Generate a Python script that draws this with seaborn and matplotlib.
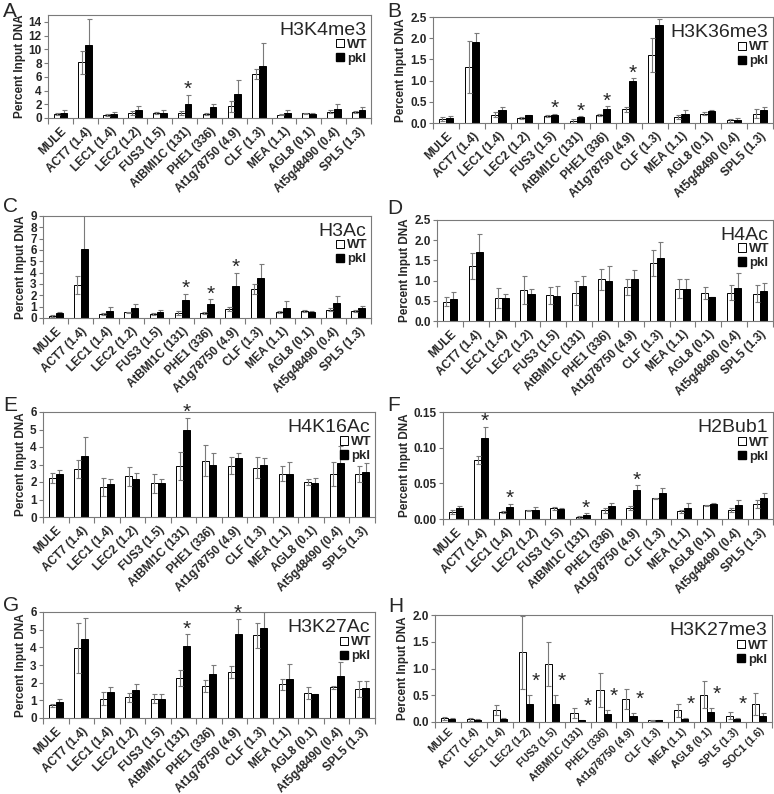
import numpy as np
import pandas as pd
import matplotlib
matplotlib.use('Agg')
import matplotlib.pyplot as plt
from matplotlib.patches import Patch
from matplotlib.ticker import FormatStrFormatter
import seaborn as sns

GENES = ['MULE', 'ACT7 (1.4)', 'LEC1 (1.4)', 'LEC2 (1.2)', 'FUS3 (1.5)',
         'AtBMI1C (131)', 'PHE1 (336)', 'At1g78750 (4.9)', 'CLF (1.3)',
         'MEA (1.1)', 'AGL8 (0.1)', 'At5g48490 (0.4)', 'SPL5 (1.3)']
GENES_H = ['MULE', 'ACT7 (1.4)', 'LEC1 (1.4)', 'LEC2 (1.2)', 'FUS3 (1.5)',
           'AtBMI1C (131)', 'PHE1 (336)', 'At1g78750 (4.9)', 'CLF (1.3)',
           'MEA (1.1)', 'AGL8 (0.1)', 'SPL5 (1.3)', 'SOC1 (1.6)']

# A - H3K4me3
A_WT = [0.6, 8.1, 0.5, 0.7, 0.7, 0.7, 0.6, 1.7, 6.4, 0.5, 0.7, 0.9, 0.9]
A_WT_ERR = [0.1, 1.7, 0.15, 0.3, 0.15, 0.25, 0.1, 0.8, 0.7, 0.1, 0.05,
            0.2, 0.1]
A_PKL = [0.8, 10.6, 0.6, 1.2, 0.8, 2.1, 1.6, 3.5, 7.6, 0.7, 0.6, 1.3, 1.2]
A_PKL_ERR = [0.3, 3.8, 0.3, 0.5, 0.35, 1.2, 0.5, 2.1, 3.3, 0.5, 0.1,
             0.7, 0.4]
A_STARS = ['AtBMI1C (131)']

# B - H3K36me3
B_WT = [0.09, 1.32, 0.2, 0.12, 0.16, 0.05, 0.19, 0.32, 1.6, 0.15, 0.22,
        0.06, 0.22]
B_WT_ERR = [0.04, 0.62, 0.06, 0.03, 0.03, 0.04, 0.02, 0.05, 0.4, 0.05,
            0.03, 0.04, 0.11]
B_PKL = [0.11, 1.9, 0.3, 0.18, 0.2, 0.14, 0.33, 1.0, 2.32, 0.21, 0.28,
         0.08, 0.3]
B_PKL_ERR = [0.05, 0.22, 0.07, 0.02, 0.02, 0.02, 0.06, 0.05, 0.13, 0.1,
             0.03, 0.04, 0.07]
B_STARS = ['FUS3 (1.5)', 'AtBMI1C (131)', 'PHE1 (336)', 'At1g78750 (4.9)']

# C - H3Ac
C_WT = [0.2, 2.95, 0.35, 0.5, 0.38, 0.45, 0.43, 0.8, 2.55, 0.5, 0.6,
        0.75, 0.62]
C_WT_ERR = [0.1, 0.8, 0.05, 0.05, 0.1, 0.2, 0.1, 0.2, 0.45, 0.1, 0.1,
            0.15, 0.12]
C_PKL = [0.4, 6.05, 0.65, 0.85, 0.5, 1.6, 1.2, 2.85, 3.5, 0.92, 0.52,
         1.3, 0.92]
C_PKL_ERR = [0.1, 3.0, 0.35, 0.35, 0.25, 0.5, 0.45, 1.1, 1.25, 0.55,
             0.08, 0.6, 0.12]
C_STARS = ['AtBMI1C (131)', 'PHE1 (336)', 'At1g78750 (4.9)']

# D - H4Ac
D_WT = [0.48, 1.37, 0.57, 0.77, 0.64, 0.69, 1.03, 0.85, 1.43, 0.8, 0.69,
        0.7, 0.68]
D_WT_ERR = [0.11, 0.32, 0.24, 0.34, 0.21, 0.29, 0.26, 0.2, 0.32, 0.23,
            0.14, 0.19, 0.21]
D_PKL = [0.54, 1.72, 0.58, 0.68, 0.62, 0.87, 0.98, 1.04, 1.57, 0.78, 0.6,
         0.81, 0.75]
D_PKL_ERR = [0.19, 0.43, 0.09, 0.12, 0.25, 0.25, 0.39, 0.23, 0.39, 0.27,
             0.0, 0.39, 0.19]
D_STARS = []

# E - H4K16Ac
E_WT = [2.22, 2.75, 1.72, 2.32, 1.92, 2.92, 3.22, 2.93, 2.82, 2.48, 2.0,
        2.45, 2.47]
E_WT_ERR = [0.28, 0.5, 0.52, 0.53, 0.52, 0.82, 0.9, 0.5, 0.6, 0.43, 0.15,
            0.67, 0.45]
E_PKL = [2.45, 3.5, 1.88, 2.15, 1.93, 5.0, 3.0, 3.37, 2.95, 2.43, 1.97,
         3.08, 2.6]
E_PKL_ERR = [0.22, 1.05, 0.27, 0.37, 0.27, 0.65, 0.65, 0.3, 0.4, 0.73,
             0.25, 0.97, 0.5]
E_STARS = ['AtBMI1C (131)']

# F - H2Bub1
F_WT = [0.010, 0.083, 0.010, 0.012, 0.015, 0.003, 0.012, 0.015, 0.029,
        0.011, 0.019, 0.013, 0.021]
F_WT_ERR = [0.003, 0.006, 0.001, 0.001, 0.002, 0.001, 0.003, 0.003,
            0.001, 0.002, 0.001, 0.003, 0.005]
F_PKL = [0.015, 0.113, 0.017, 0.012, 0.014, 0.006, 0.018, 0.041, 0.037,
         0.016, 0.021, 0.020, 0.030]
F_PKL_ERR = [0.003, 0.016, 0.004, 0.005, 0.002, 0.002, 0.005, 0.006,
             0.006, 0.006, 0.002, 0.007, 0.006]
F_STARS = ['ACT7 (1.4)', 'LEC1 (1.4)', 'AtBMI1C (131)', 'At1g78750 (4.9)']

# G - H3K27Ac
G_WT = [0.72, 3.97, 1.1, 1.17, 1.1, 2.25, 1.8, 2.62, 4.68, 1.9, 1.4,
        1.73, 1.65]
G_WT_ERR = [0.1, 1.4, 0.37, 0.27, 0.27, 0.45, 0.35, 0.35, 0.72, 0.33,
            0.35, 0.08, 0.45]
G_PKL = [0.9, 4.48, 1.5, 1.6, 1.1, 4.08, 2.5, 4.73, 5.1, 2.18, 1.35,
         2.38, 1.7]
G_PKL_ERR = [0.2, 1.18, 0.27, 0.32, 0.27, 0.65, 0.5, 0.9, 0.9, 0.87,
             0.02, 0.8, 0.38]
G_STARS = ['AtBMI1C (131)', 'At1g78750 (4.9)']

# H - H3K27me3
H_WT = [0.07, 0.05, 0.22, 1.3, 1.08, 0.17, 0.6, 0.43, 0.03, 0.22, 0.51,
        0.12, 0.34]
H_WT_ERR = [0.03, 0.03, 0.09, 0.68, 0.41, 0.09, 0.32, 0.18, 0.01, 0.12,
            0.25, 0.06, 0.2]
H_PKL = [0.05, 0.04, 0.06, 0.34, 0.34, 0.03, 0.15, 0.11, 0.03, 0.06,
         0.18, 0.05, 0.12]
H_PKL_ERR = [0.02, 0.01, 0.02, 0.17, 0.17, 0.01, 0.07, 0.05, 0.01, 0.02,
             0.08, 0.02, 0.04]
H_STARS = ['LEC2 (1.2)', 'FUS3 (1.5)', 'AtBMI1C (131)', 'PHE1 (336)',
           'At1g78750 (4.9)', 'MEA (1.1)', 'AGL8 (0.1)', 'SPL5 (1.3)']

GRAY = '#7a7a7a'


def draw_panel(ax, genes, wt, wt_err, pkl, pkl_err, stars, title, yticks,
               fmt, star_side=False, xfont=8.5, xpad=5):
    '''
    Draws one grouped bar panel (WT vs pkl) with error bars and stars.
    '''
    n = len(genes)
    df = pd.DataFrame({'gene': genes * 2,
                       'geno': ['WT'] * n + ['pkl'] * n,
                       'value': wt + pkl})
    sns.barplot(data=df, x='gene', y='value', hue='geno', order=genes,
                hue_order=['WT', 'pkl'],
                palette={'WT': 'white', 'pkl': 'black'},
                edgecolor='black', linewidth=0.7, width=0.55,
                errorbar=None, legend=False, ax=ax, zorder=2)

    # error bars: on top of white bars, behind black ones
    z_order = [3, 1]
    for cont, err, z in zip(ax.containers, [wt_err, pkl_err], z_order):
        xs = [p.get_x() + p.get_width() / 2 for p in cont]
        hs = [p.get_height() for p in cont]
        ax.errorbar(xs, hs, yerr=err, fmt='none', ecolor=GRAY,
                    elinewidth=0.8, capsize=1.8, capthick=0.8, zorder=z)

    ymax = yticks[-1]
    ax.set_ylim(0, ymax)
    ax.set_xlim(-0.5, n - 0.5)

    # significance stars
    pkl_bars = list(ax.containers[1])
    for g in stars:
        i = genes.index(g)
        p = pkl_bars[i]
        x = p.get_x() + p.get_width() / 2
        top = pkl[i] + pkl_err[i]
        if star_side:
            ax.text(x + 0.24, top + 0.04 * ymax, '*', ha='center',
                    va='bottom', fontsize=15, clip_on=False)
        else:
            ax.text(x, top - 0.04 * ymax, '*', ha='center', va='bottom',
                    fontsize=15, clip_on=False)

    # axis styling
    ax.set_yticks(yticks)
    ax.yaxis.set_major_formatter(FormatStrFormatter(fmt))
    ax.set_xticks(np.arange(n))
    ax.set_xticklabels(genes, rotation=45, ha='right',
                       rotation_mode='anchor', fontsize=xfont,
                       fontweight='bold')
    ax.set_xticks(np.arange(n + 1) - 0.5, minor=True)
    ax.tick_params(axis='x', which='major', length=0, pad=xpad)
    ax.tick_params(axis='x', which='minor', length=4, direction='out',
                   color=GRAY, width=0.8)
    ax.tick_params(axis='y', length=3, direction='out', color=GRAY,
                   width=0.8, labelsize=8.5, pad=1.5)
    for lab in ax.get_yticklabels():
        lab.set_fontweight('bold')
    for s in ax.spines.values():
        s.set_visible(True)
        s.set_color(GRAY)
        s.set_linewidth(0.8)
    ax.set_xlabel('')
    ax.set_ylabel('Percent Input DNA', fontsize=8.5, fontweight='bold',
                  labelpad=2)

    # title and legend in the corner
    ax.text(0.985, 0.93, title, transform=ax.transAxes, ha='right',
            va='top', fontsize=14)
    handles = [Patch(facecolor='white', edgecolor='black', linewidth=0.7),
               Patch(facecolor='black', edgecolor='black')]
    ax.legend(handles, ['WT', 'pkl'], loc='upper right',
              bbox_to_anchor=(0.99, 0.77), frameon=False,
              prop={'weight': 'bold', 'size': 9.5}, handlelength=0.6,
              handleheight=0.6, handletextpad=0.25, labelspacing=0.15,
              borderaxespad=0, borderpad=0)


def main():
    '''
    Builds the 8 ChIP panels and saves the figure as out.png
    '''
    sns.set_style('ticks')
    plt.rcParams['font.family'] = ['Liberation Sans', 'DejaVu Sans']

    fig = plt.figure(figsize=(7.74, 7.94), dpi=100)
    W, H = 774, 794

    def add_ax(x0, y0, x1, y1):
        return fig.add_axes([x0 / W, 1 - y1 / H, (x1 - x0) / W,
                             (y1 - y0) / H])

    ax_a = add_ax(48, 15, 371, 118)
    ax_b = add_ax(433, 17, 773, 123)
    ax_c = add_ax(43, 216, 371, 318)
    ax_d = add_ax(437, 220, 773, 321)
    ax_e = add_ax(43, 412, 375, 517)
    ax_f = add_ax(443, 412, 773, 519)
    ax_g = add_ax(43, 612, 375, 718)
    ax_h = add_ax(435, 615, 772, 722)

    draw_panel(ax_a, GENES, A_WT, A_WT_ERR, A_PKL, A_PKL_ERR, A_STARS,
               'H3K4me3', [0, 2, 4, 6, 8, 10, 12, 14], '%d')
    ax_a.set_ylim(0, 15)
    draw_panel(ax_b, GENES, B_WT, B_WT_ERR, B_PKL, B_PKL_ERR, B_STARS,
               'H3K36me3', [0, 0.5, 1.0, 1.5, 2.0, 2.5], '%.1f')
    draw_panel(ax_c, GENES, C_WT, C_WT_ERR, C_PKL, C_PKL_ERR, C_STARS,
               'H3Ac', list(range(10)), '%d')
    draw_panel(ax_d, GENES, D_WT, D_WT_ERR, D_PKL, D_PKL_ERR, D_STARS,
               'H4Ac', [0, 0.5, 1.0, 1.5, 2.0, 2.5], '%.1f')
    draw_panel(ax_e, GENES, E_WT, E_WT_ERR, E_PKL, E_PKL_ERR, E_STARS,
               'H4K16Ac', list(range(7)), '%d')
    draw_panel(ax_f, GENES, F_WT, F_WT_ERR, F_PKL, F_PKL_ERR, F_STARS,
               'H2Bub1', [0, 0.05, 0.10, 0.15], '%.2f')
    draw_panel(ax_g, GENES, G_WT, G_WT_ERR, G_PKL, G_PKL_ERR, G_STARS,
               'H3K27Ac', list(range(7)), '%d')
    draw_panel(ax_h, GENES_H, H_WT, H_WT_ERR, H_PKL, H_PKL_ERR, H_STARS,
               'H3K27me3', [0, 0.5, 1.0, 1.5, 2.0], '%.1f', star_side=True,
               xfont=7.6, xpad=3)

    # panel letters
    letters = [('A', 3, 2), ('B', 387, 2), ('C', 3, 197), ('D', 387, 199),
               ('E', 3, 396), ('F', 387, 396), ('G', 3, 596),
               ('H', 388, 597)]
    for lab, x, y in letters:
        fig.text(x / W, 1 - y / H, lab, fontsize=15, ha='left', va='top')

    plt.savefig('out.png', dpi=100)


if __name__ == '__main__':
    main()
